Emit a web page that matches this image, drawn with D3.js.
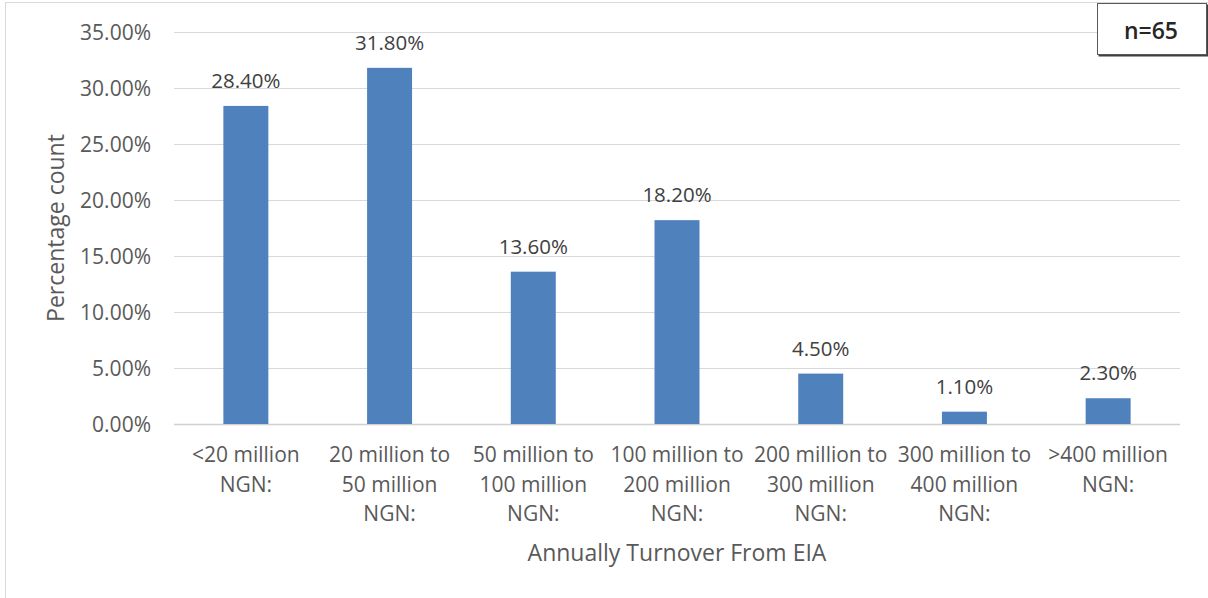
<!DOCTYPE html>
<html>
<head>
<meta charset="utf-8">
<script src="https://cdn.jsdelivr.net/npm/d3@7"></script>
<style>
  body { margin: 0; background: #fff; }
  svg { display: block; font-family: "Open Sans", sans-serif; }
</style>
</head>
<body>
<div id="chart"></div>
<script>
// chart data
var categories = [
  ["<20 million", "NGN:"],
  ["20 million to", "50 million", "NGN:"],
  ["50 million to", "100 million", "NGN:"],
  ["100 million to", "200 million", "NGN:"],
  ["200 million to", "300 million", "NGN:"],
  ["300 million to", "400 million", "NGN:"],
  [">400 million", "NGN:"]
];
var values = [28.4, 31.8, 13.6, 18.2, 4.5, 1.1, 2.3];
var yTicks = [0, 5, 10, 15, 20, 25, 30, 35];
var sampleLabel = "n=65";

var W = 1208, H = 598;
var margin = {top: 32, right: 28, bottom: 174, left: 174},
    width = W - margin.left - margin.right,
    height = H - margin.top - margin.bottom;

var svg = d3.select("#chart").append("svg")
    .attr("width", W)
    .attr("height", H);

// outer chart border
svg.append("rect")
    .attr("x", 5.5).attr("y", 2.5)
    .attr("width", W + 10).attr("height", H + 10)
    .attr("fill", "none")
    .attr("stroke", "#d9d9d9");

var g = svg.append("g")
    .attr("transform", "translate(" + margin.left + "," + margin.top + ")");

var x = d3.scaleBand()
    .domain(d3.range(categories.length))
    .range([0, width])
    .paddingInner(0.687)
    .paddingOuter(0.3435);

var y = d3.scaleLinear().domain([0, 35]).range([height, 0]);

// gridlines
g.selectAll("line.grid")
    .data(yTicks)
    .enter().append("line")
    .attr("class", "grid")
    .attr("x1", 0).attr("x2", width)
    .attr("y1", d => y(d) + 0.5).attr("y2", d => y(d) + 0.5)
    .attr("stroke", d => d === 0 ? "#d0d0d0" : "#d9d9d9")
    .attr("stroke-width", d => d === 0 ? 1.5 : 1);

// y tick labels
var yAxis = d3.axisLeft(y).tickValues(yTicks)
    .tickFormat(d => d.toFixed(2) + "%")
    .tickSize(0).tickPadding(23);
g.append("g").call(yAxis)
    .call(a => a.select(".domain").remove())
    .selectAll("text")
    .attr("fill", "#595959")
    .attr("dy", "0.36em")
    .style("font-size", "21px")
    .style("font-family", "Open Sans");

// bars
g.selectAll("rect.bar")
    .data(values)
    .enter().append("rect")
    .attr("class", "bar")
    .attr("x", (d, i) => x(i))
    .attr("y", d => y(d))
    .attr("width", x.bandwidth())
    .attr("height", d => height - y(d))
    .attr("fill", "#4f81bd");

// data labels
g.selectAll("text.lbl")
    .data(values)
    .enter().append("text")
    .attr("class", "lbl")
    .attr("x", (d, i) => x(i) + x.bandwidth() / 2)
    .attr("y", d => y(d) - 18)
    .attr("text-anchor", "middle")
    .attr("fill", "#404040")
    .style("font-size", "20.5px")
    .text(d => d.toFixed(2) + "%");

// category labels
var cat = g.selectAll("text.cat")
    .data(categories)
    .enter().append("text")
    .attr("class", "cat")
    .attr("text-anchor", "middle")
    .attr("fill", "#595959")
    .style("font-size", "21px")
    .attr("transform", (d, i) => "translate(" + (x(i) + x.bandwidth() / 2) + "," + (height + 38) + ")");
cat.selectAll("tspan")
    .data(d => d)
    .enter().append("tspan")
    .attr("x", 0)
    .attr("y", (d, i) => i * 29.5)
    .text(d => d);

// axis titles
svg.append("text")
    .attr("x", margin.left + width / 2)
    .attr("y", 561)
    .attr("text-anchor", "middle")
    .attr("fill", "#595959")
    .style("font-size", "23px")
    .text("Annually Turnover From EIA");

svg.append("text")
    .attr("transform", "translate(64," + (margin.top + height / 2) + ") rotate(-90)")
    .attr("text-anchor", "middle")
    .attr("fill", "#595959")
    .style("font-size", "23px")
    .text("Percentage count");

// sample size box
var box = svg.append("g").attr("transform", "translate(1097,3)");
box.append("rect")
    .attr("x", 1.5).attr("y", 1.5)
    .attr("width", 110).attr("height", 52)
    .attr("fill", "#404040");
box.append("rect")
    .attr("x", 0.5).attr("y", 0.5)
    .attr("width", 109).attr("height", 51)
    .attr("fill", "#fff")
    .attr("stroke", "#595959");
box.append("text")
    .attr("x", 54).attr("y", 36)
    .attr("text-anchor", "middle")
    .attr("fill", "#262626")
    .style("font-size", "23px")
    .style("font-weight", "600")
    .text(sampleLabel);
</script>
</body>
</html>
